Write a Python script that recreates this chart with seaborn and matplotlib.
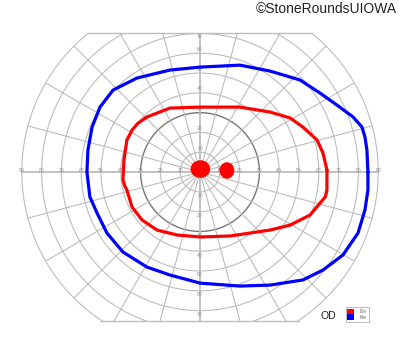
import numpy as np
import pandas as pd
import matplotlib
matplotlib.use("Agg")
import matplotlib.pyplot as plt
from matplotlib.patches import Rectangle, Ellipse, Patch
import seaborn as sns

# ---- data (degrees of visual field; x = horizontal, y = vertical) ----
ring_ecc = [10, 20, 30, 40, 50, 60, 70, 80, 90]
meridians = list(range(0, 360, 15))
h_labels = [10, 20, 30, 40, 50, 60, 70, 80, 90]
v_labels = [10, 20, 30, 40, 50, 60, 70]

i4e_x = [84.8, 84.3, 83.3, 81.8, 77.3, 69.2, 60.6, 50.5, 35.4, 20.2, 0.0, -15.2, -31.8,
         -43.9, -50.5, -54.5, -56.6, -57.1, -55.6, -52.0, -47.0, -38.9, -26.8, -15.2,
         0.0, 20.2, 35.4, 52.0, 62.1, 72.2, 79.8, 83.3, 84.8]
i4e_y = [0.0, 11.1, 17.7, 22.7, 27.8, 33.8, 39.9, 46.5, 51.0, 54.0, 53.0, 51.5, 47.5,
         41.4, 32.8, 22.7, 11.1, 0.0, -12.6, -20.7, -30.8, -40.4, -48.0, -52.0,
         -56.1, -57.6, -57.1, -54.5, -49.5, -41.9, -30.8, -19.2, -9.1]

i2e_x = [64.1, 62.1, 59.1, 52.0, 45.5, 35.4, 20.2, 0.0, -15.2, -26.8, -31.5, -34.3, -36.9,
         -38.4, -38.9, -38.0, -36.9, -34.3, -29.3, -21.7, -11.6, 0.0, 15.2, 35.4, 45.5, 55.6,
         60.6, 63.3, 64.1]
i2e_y = [1.0, 9.6, 16.2, 22.7, 27.3, 30.3, 32.8, 32.8, 32.3, 27.8, 24.5, 21.2, 16.2,
         6.1, -4.0, -7.0, -9.1, -17.7, -24.2, -29.3, -31.8, -32.8, -32.3, -29.3, -26.8, -21.7,
         -15.7, -12.5, -9.1]

# filled scotomas (center x, center y, width, height) in degrees
scotoma_cx = [0.2, 13.6]
scotoma_cy = [1.5, 0.8]
scotoma_w = [9.2, 6.8]
scotoma_h = [8.2, 7.6]

top_limit = 70
bottom_limit = -75

# ---- figure ----
sns.set_style("white")
plt.rcParams['font.family'] = ['Liberation Sans', 'DejaVu Sans']

fig = plt.figure(figsize=(4.0, 3.52), dpi=100)
ax = fig.add_axes([0, 0, 1, 1])
ax.set_xlim(-101.0, 101.0)
ax.set_ylim(-90.9, 86.9)
ax.axis('off')

clip = Rectangle((-100, bottom_limit), 200, top_limit - bottom_limit, transform=ax.transData)
grid_c = '#bdbdbd'
t = np.linspace(0, 2 * np.pi, 721)
for r in ring_ecc:
    col = '#777777' if r == 30 else grid_c
    ln, = ax.plot(r * np.cos(t), r * np.sin(t), color=col, lw=1.0 if r == 30 else 0.8, zorder=1)
    ln.set_clip_path(clip)
for m in meridians:
    a = np.deg2rad(m)
    lw = 1.3 if m % 90 == 0 else 0.8
    ln, = ax.plot([0, 90 * np.cos(a)], [0, 90 * np.sin(a)], color=grid_c, lw=lw, zorder=1)
    ln.set_clip_path(clip)
for yl in (top_limit, bottom_limit):
    half = np.sqrt(90 ** 2 - yl ** 2)
    ax.plot([-half, half], [yl, yl], color=grid_c, lw=1.0, zorder=1)

lab_kw = dict(fontsize=3.6, color='#8c8c8c', ha='center', va='center', zorder=2)
for v in h_labels:
    ax.text(v, 0.6, str(v), **lab_kw)
    ax.text(-v, 0.6, str(v), **lab_kw)
for v in v_labels:
    ax.text(0, min(v + 2, top_limit - 1.5), str(v), **lab_kw)
    ax.text(0, -v - 2, str(v), **lab_kw)

# isopters
df4 = pd.DataFrame({'x': i4e_x + i4e_x[:1], 'y': i4e_y + i4e_y[:1]})
df2 = pd.DataFrame({'x': i2e_x + i2e_x[:1], 'y': i2e_y + i2e_y[:1]})
sns.lineplot(data=df4, x='x', y='y', sort=False, estimator=None, color='#0000ff', lw=2.3, ax=ax, zorder=3)
sns.lineplot(data=df2, x='x', y='y', sort=False, estimator=None, color='#ff0000', lw=2.3, ax=ax, zorder=3)

for cx, cy, w, h in zip(scotoma_cx, scotoma_cy, scotoma_w, scotoma_h):
    ax.add_patch(Ellipse((cx, cy), w, h, color='#ff0000', zorder=4))

ax.set_xlim(-101.0, 101.0)
ax.set_ylim(-90.9, 86.9)
ax.set_xlabel('')
ax.set_ylabel('')

# texts
fig.text(397 / 400, 1 - 9 / 352, '\u00a9StoneRoundsUIOWA', ha='right', va='center',
         fontsize=10.0, color='#222222')
fig.text(328 / 400, 1 - 316 / 352, 'OD', ha='center', va='center', fontsize=7.5, color='#222222')

handles = [Patch(facecolor='#ff0000', edgecolor='none'), Patch(facecolor='#0000ff', edgecolor='none')]
leg = fig.legend(handles, ['I2e', 'I4e'], loc='lower left',
                 bbox_to_anchor=(345.5 / 400, 1 - 321.5 / 352), fontsize=3.6,
                 frameon=True, fancybox=False, edgecolor='#b0b0b0', framealpha=1,
                 handlelength=1.3, handleheight=1.3, handletextpad=1.2,
                 borderpad=0.35, labelspacing=0.05, borderaxespad=0)
leg.get_frame().set_linewidth(0.6)
for txt in leg.get_texts():
    txt.set_color('#666666')

fig.savefig('out.png', dpi=100)
